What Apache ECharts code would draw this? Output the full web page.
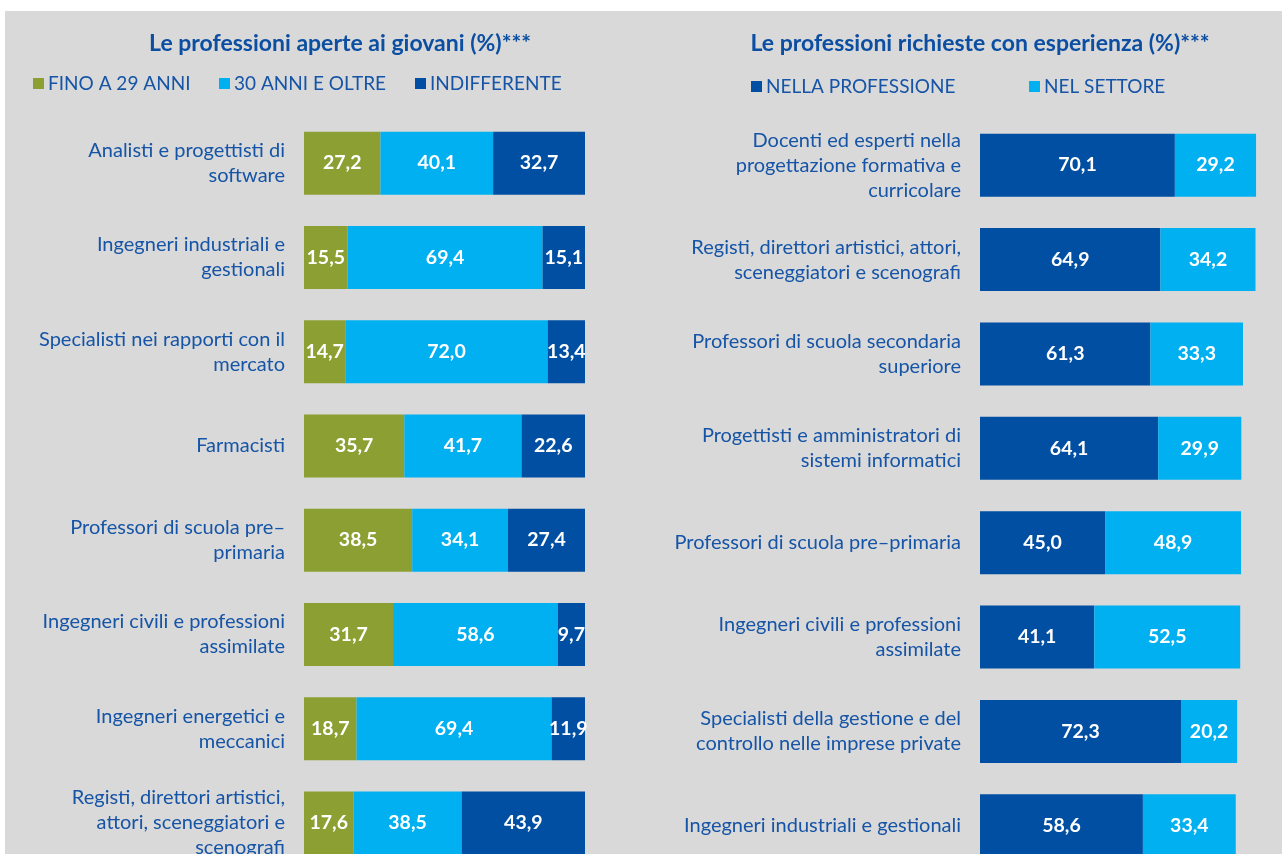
<!DOCTYPE html>
<html><head><meta charset="utf-8">
<script src="https://cdn.jsdelivr.net/npm/echarts@6/dist/echarts.min.js"></script>
<style>html,body{margin:0;padding:0;background:#fff;}#c{width:1282px;height:854px;}</style>
</head><body><div id="c"></div>
<script>
const leftCategories = [
  "Analisti e progettisti di\nsoftware",
  "Ingegneri industriali e\ngestionali",
  "Specialisti nei rapporti con il\nmercato",
  "Farmacisti",
  "Professori di scuola pre–\nprimaria",
  "Ingegneri civili e professioni\nassimilate",
  "Ingegneri energetici e\nmeccanici",
  "Registi, direttori artistici,\nattori, sceneggiatori e\nscenografi"
];
const fino29 = [27.2, 15.5, 14.7, 35.7, 38.5, 31.7, 18.7, 17.6];
const oltre30 = [40.1, 69.4, 72.0, 41.7, 34.1, 58.6, 69.4, 38.5];
const indifferente = [32.7, 15.1, 13.4, 22.6, 27.4, 9.7, 11.9, 43.9];

const rightCategories = [
  "Docenti ed esperti nella\nprogettazione formativa e\ncurricolare",
  "Registi, direttori artistici, attori,\nsceneggiatori e scenografi",
  "Professori di scuola secondaria\nsuperiore",
  "Progettisti e amministratori di\nsistemi informatici",
  "Professori di scuola pre–primaria",
  "Ingegneri civili e professioni\nassimilate",
  "Specialisti della gestione e del\ncontrollo nelle imprese private",
  "Ingegneri industriali e gestionali"
];
const nellaProfessione = [70.1, 64.9, 61.3, 64.1, 45.0, 41.1, 72.3, 58.6];
const nelSettore = [29.2, 34.2, 33.3, 29.9, 48.9, 52.5, 20.2, 33.4];

const GREEN = '#8C9F33', CYAN = '#00B0F0', DARK = '#004FA2', TXT = '#1554A6';
const FONT = 'Lato, "Open Sans", sans-serif';

const chart = echarts.init(document.getElementById('c'));
const lbl = {
  show: true, position: 'inside', color: '#fff', fontWeight: 'bold',
  fontSize: 19.5, fontFamily: FONT,
  formatter: p => p.value.toFixed(1).replace('.', ',')
};
function bar(name, data, color, idx) {
  return { name, type: 'bar', stack: 's' + idx, data, barWidth: 63,
    xAxisIndex: idx, yAxisIndex: idx, itemStyle: { color }, label: lbl };
}
const yAx = (cats, idx) => ({
  type: 'category', data: cats, inverse: true, gridIndex: idx,
  axisLine: { show: false }, axisTick: { show: false },
  axisLabel: { color: TXT, fontSize: 20, fontFamily: FONT, lineHeight: 25, margin: 19, align: 'right' }
});
const leg = (name, left, top) => ({
  data: [name], left, top, padding: 0,
  itemWidth: 11, itemHeight: 11, icon: 'rect',
  textStyle: { color: TXT, fontSize: 19, fontFamily: FONT, padding: [0, 0, 0, -1] }
});
chart.setOption({
  animation: false,
  backgroundColor: '#fff',
  textStyle: { fontFamily: FONT },
  graphic: [{ type: 'rect', z: -10, shape: { x: 5, y: 11, width: 1277, height: 843 }, style: { fill: '#D9D9D9' } }],
  title: [
    { text: 'Le professioni aperte ai giovani (%)***', left: 335, top: 27, textAlign: 'center',
      textStyle: { color: '#0B4EA2', fontSize: 23, fontWeight: 'bold', fontFamily: FONT } },
    { text: 'Le professioni richieste con esperienza (%)***', left: 975, top: 27, textAlign: 'center',
      textStyle: { color: '#0B4EA2', fontSize: 23, fontWeight: 'bold', fontFamily: FONT } }
  ],
  legend: [
    leg('FINO A 29 ANNI', 33, 74),
    leg('30 ANNI E OLTRE', 219, 74),
    leg('INDIFFERENTE', 415, 74),
    leg('NELLA PROFESSIONE', 751, 77),
    leg('NEL SETTORE', 1029, 77)
  ],
  grid: [
    { left: 304, width: 281, top: 116, height: 754, outerBoundsMode: 'none' },
    { left: 980, width: 278, top: 118, height: 755, outerBoundsMode: 'none' }
  ],
  xAxis: [
    { type: 'value', min: 0, max: 100, gridIndex: 0, show: false },
    { type: 'value', min: 0, max: 100, gridIndex: 1, show: false }
  ],
  yAxis: [yAx(leftCategories, 0), yAx(rightCategories, 1)],
  series: [
    bar('FINO A 29 ANNI', fino29, GREEN, 0),
    bar('30 ANNI E OLTRE', oltre30, CYAN, 0),
    bar('INDIFFERENTE', indifferente, DARK, 0),
    bar('NELLA PROFESSIONE', nellaProfessione, DARK, 1),
    bar('NEL SETTORE', nelSettore, CYAN, 1)
  ]
});
</script></body></html>
